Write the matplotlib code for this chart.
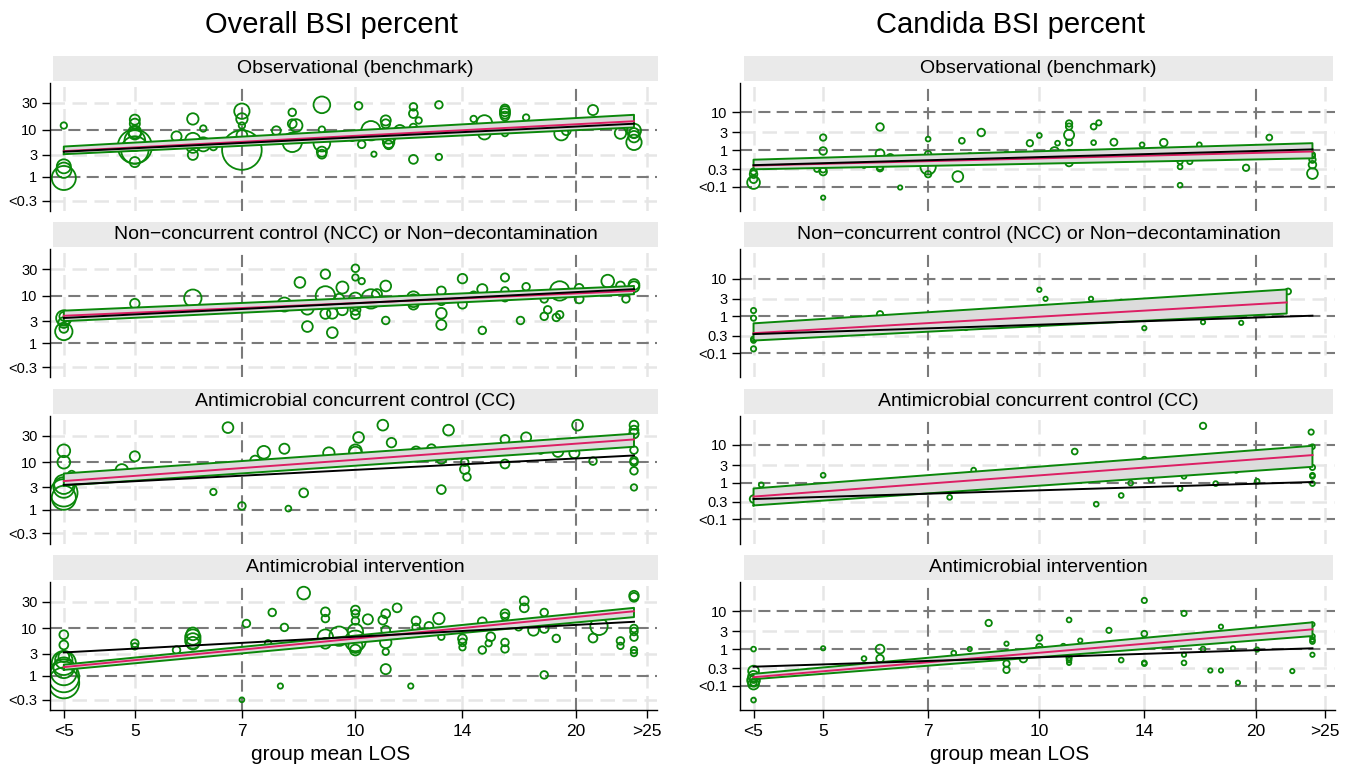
import numpy as np
import matplotlib
matplotlib.use("Agg")
import matplotlib.pyplot as plt
from matplotlib.patches import Rectangle
from matplotlib.ticker import NullLocator, NullFormatter

plt.rcParams['font.family'] = ['Liberation Sans', 'DejaVu Sans']

# axis ticks
los_ticks = [4, 5, 7, 10, 14, 20, 25]
los_labels = ['<5', '5', '7', '10', '14', '20', '>25']
ov_ticks = [30, 10, 3, 1, 0.3]
ov_labels = ['30', '10', '3', '1', '<0.3']
ca_ticks = [10, 3, 1, 0.3, 0.1]
ca_labels = ['10', '3', '1', '0.3', '<0.1']

panel_titles = ['Observational (benchmark)',
                'Non\u2212concurrent control (NCC) or Non\u2212decontamination',
                'Antimicrobial concurrent control (CC)',
                'Antimicrobial intervention']

# ---- Overall BSI percent: (group mean LOS, percent, weight) ----
ov_obs_los = [4, 4, 4, 4, 5, 5, 5, 5, 5, 5, 5, 5, 5.7, 6.0, 6.0, 6.0, 6.0, 6.2, 6.2, 6.4,
              7, 7, 7, 7, 7, 7.8, 8.2, 8.2, 8.2, 8.3, 9.0, 9.0, 9.0, 9.0, 9.0,
              10.1, 10.5, 10.2, 9.9, 10.6, 11, 11, 11.1, 11.1, 11.1, 11.5,
              12, 12, 12, 12.2, 12, 13, 13, 14.5, 15, 15, 16, 16, 16, 16, 16, 17.1, 16.5,
              19.1, 19.4, 21.1, 23, 24, 24, 24, 24]
ov_obs_pct = [12, 1.7, 1.4, 0.95, 15.5, 13, 9, 8.5, 4.5, 3.8, 2.1, 6, 7.3, 16, 6, 3, 4.5, 10.5, 5, 4.5,
              22, 16, 7.7, 3.8, 12, 9.5, 21, 13, 5.5, 12, 28, 10, 5.3, 3.5, 3.1,
              27, 9.5, 5, 6.8, 3.1, 15, 13, 7.2, 5.5, 4.9, 9.5,
              26, 20, 11, 15, 2.4, 28, 2.7, 16, 13.5, 8.5, 22, 20, 24, 18, 8.5, 17, 12,
              8.4, 9.5, 23, 8.5, 9.5, 5.5, 7.2, 8.5]
ov_obs_wt = [8, 20, 22, 35, 14, 14, 18, 18, 50, 40, 14, 30, 14, 16, 22, 14, 18, 8, 20, 10,
             22, 16, 15, 58, 8, 12, 10, 12, 28, 18, 24, 8, 24, 14, 12,
             10, 28, 10, 8, 6, 14, 12, 20, 16, 12, 16,
             10, 12, 10, 8, 12, 10, 8, 8, 22, 18, 14, 14, 12, 12, 8, 8, 8,
             20, 12, 14, 16, 20, 22, 16, 14]

ov_ncc_los = [4, 4, 4, 4, 4, 5, 6, 8, 8.4, 8.6, 8.6, 9.1, 9.1, 9.1, 9.3, 9.3, 9.6, 9.6, 9.5,
              10, 10, 10.2, 10, 10, 10, 10, 10.5, 10.7, 11, 11, 12, 12, 12,
              13.1, 13.1, 13.1, 13.1, 14, 14, 14.5, 14.9, 14.9, 16, 16, 16, 17.1, 16.8,
              18.1, 18.1, 18.3, 18.8, 19, 19, 20.2, 20.2, 22.1, 23, 23.4, 24, 24]
ov_ncc_pct = [3.8, 3.5, 2.8, 2.1, 1.8, 7, 9, 6.7, 18, 5.6, 2.3, 25, 10, 4.3, 4.4, 1.7, 14.5, 5.2, 8.7,
              31, 22, 19, 8.7, 6.7, 5.2, 4.1, 8.7, 10.8, 15.5, 3.1, 9.2, 8, 6.7,
              12.5, 8, 4.4, 2.5, 21, 6.8, 10, 13.5, 1.9, 22, 12.5, 9.2, 15, 3.1,
              8.7, 3.8, 5.2, 3.6, 4.1, 12.5, 14, 8.7, 19, 15.5, 8.7, 16.5, 15]
ov_ncc_wt = [12, 22, 15, 12, 25, 13, 25, 20, 15, 18, 15, 13, 28, 14, 15, 15, 17, 15, 14,
             10, 8, 8, 18, 14, 14, 12, 28, 14, 15, 10, 18, 18, 14,
             12, 12, 15, 14, 13, 12, 12, 14, 10, 11, 10, 10, 10, 10,
             10, 10, 10, 10, 10, 28, 12, 12, 18, 12, 10, 15, 15]

ov_cc_los = [4, 4, 4.1, 4, 4, 4, 4, 4.8, 5, 6.4, 6.7, 7, 7.3, 7.5, 8, 8.1, 8.5,
             9.2, 10, 10, 10.1, 10.9, 11.2, 12.1, 12.1, 12.7, 13.1, 13.1, 13.4,
             14.1, 14.1, 14.2, 16, 16, 17.1, 17.9, 18.9, 19.9, 20.1, 21.1,
             24, 24, 24, 24, 24, 24, 24, 24]
ov_cc_pct = [16.5, 10, 5.6, 3.5, 2.3, 1.8, 3, 6.8, 13, 2.4, 39, 1.2, 10.7, 15.5, 18, 1.05, 2.3,
             15, 16.5, 15, 28, 42, 23, 16, 12.5, 18, 11.7, 2.7, 36,
             10, 7.2, 5, 26, 9.2, 28, 17, 16, 15, 42, 10.5,
             42, 36, 32, 17, 10.8, 10, 6.7, 3]
ov_cc_wt = [18, 18, 10, 28, 40, 35, 30, 18, 14, 8, 15, 10, 14, 18, 14, 7, 12,
            16, 18, 18, 15, 15, 13, 14, 12, 12, 14, 12, 15,
            10, 13, 10, 12, 12, 14, 10, 15, 14, 15, 10,
            12, 12, 13, 10, 10, 10, 10, 8]

ov_int_los = [4, 4, 4, 4, 4, 4, 4, 4, 4, 5, 5, 5.7, 6, 6, 6, 6,
              7.1, 7, 7.6, 7.7, 7.9, 8, 8.5, 9.1, 9.1, 9.1, 9.1, 9.5,
              10, 10, 10, 10, 10, 10, 10, 10.4, 10.9, 11, 11, 11, 11, 11,
              11.4, 12.1, 12.1, 11.9, 12.6, 13, 13.1, 14, 14, 14, 14.9, 14.9, 15.2, 15.3,
              16, 16, 16, 16, 16.7, 17, 17, 17.5, 18.1, 18.1, 18.1, 18.8, 21.1, 21.5,
              23, 23, 24, 24, 24, 24, 24, 24, 24]
ov_int_pct = [7.5, 4.6, 2.6, 2.2, 1.9, 1.5, 1.2, 0.95, 0.7, 5, 4.3, 3.6, 6.7, 5.6, 7.8, 5,
              12.5, 0.3, 5, 20, 0.6, 10.5, 40, 20.5, 15.5, 6.7, 5, 7,
              22, 19, 14, 8.7, 5.6, 3.6, 4.4, 15, 14.5, 19, 9.2, 5.2, 3.3, 1.4,
              24, 14, 10.5, 0.6, 11, 15.5, 6.8, 6.2, 5.2, 4.1, 13.5, 3.6, 5, 6.8,
              19, 17, 5.2, 3.8, 10.8, 31, 24, 9.2, 20, 10, 1.05, 6.3, 6.4, 11,
              5.6, 4.4, 37, 35, 10, 8.7, 6.7, 3.6, 3.1]
ov_int_wt = [12, 12, 15, 25, 35, 30, 38, 45, 45, 10, 8, 10, 22, 22, 18, 18,
             10, 5, 8, 10, 6, 10, 18, 12, 10, 22, 15, 28,
             12, 10, 10, 22, 30, 15, 20, 14, 12, 12, 12, 16, 8, 14,
             12, 12, 10, 6, 12, 16, 8, 12, 10, 8, 12, 10, 8, 12,
             12, 10, 10, 10, 10, 12, 12, 15, 10, 12, 10, 10, 12, 25,
             10, 8, 13, 12, 10, 10, 10, 8, 8]

# ---- Candida BSI percent ----
ca_obs_los = [4, 4, 4, 4, 5, 5, 5, 5, 4.9, 5, 5.7, 6, 6, 6, 6, 6.2, 6.4,
              7, 7, 7, 7, 7.7, 7.8, 8, 8.3, 9, 9.7, 10, 10.5, 10.6,
              11, 11, 11, 11, 11, 11, 11.9, 12.1, 11.9, 12.7, 13.9, 14.9,
              15.7, 15.7, 15.7, 16.2, 16.7, 19.4, 20.9, 24, 24, 24, 24, 24]
ca_obs_pct = [0.22, 0.16, 0.13, 0.26, 2.2, 0.95, 0.3, 0.26, 0.3, 0.05, 0.38, 4.2, 0.8, 0.35, 0.32, 0.62, 0.095,
              2, 0.78, 0.35, 0.22, 0.19, 1.8, 0.65, 3, 0.75, 1.55, 2.5, 0.92, 1.55,
              5.2, 4.3, 2.6, 1.6, 0.84, 0.46, 4.3, 5.4, 1.6, 1.65, 1.4, 1.6,
              0.49, 0.35, 0.11, 0.49, 1.4, 0.33, 2.2, 0.75, 0.55, 0.4, 0.23, 0.7]
ca_obs_wt = [10, 10, 18, 8, 8, 10, 8, 10, 6, 4, 5, 10, 12, 8, 8, 10, 4,
             5, 8, 22, 8, 15, 7, 10, 10, 8, 8, 5, 12, 5,
             8, 8, 14, 8, 8, 10, 7, 6, 5, 9, 5, 10,
             6, 5, 5, 6, 5, 8, 7, 6, 8, 10, 15, 6]

ca_ncc_los = [4, 4, 4, 4, 4, 6, 7.9, 9, 10, 10.2, 10, 11.8, 13, 14, 16.9, 19.1, 22.2]
ca_ncc_pct = [1.45, 0.9, 0.24, 0.22, 0.13, 1.15, 0.5, 0.68, 5.2, 3, 0.65, 3, 2.5, 0.48, 0.7, 0.67, 4.7]
ca_ncc_wt = [6, 6, 6, 5, 6, 8, 6, 5, 4, 4, 8, 4, 4, 4, 4, 4, 7]

ca_cc_los = [4, 4.1, 5, 6.4, 7.5, 8.1, 11.2, 12, 12, 12.7, 13, 13.4, 14, 14.3, 15.7, 15.9, 16.9,
             17.6, 18.8, 20.1, 23.9, 24, 24, 24, 24, 24]
ca_cc_pct = [0.36, 0.88, 1.6, 1.2, 0.4, 2.2, 6.8, 3.1, 0.26, 3.3, 0.45, 0.98, 4.3, 1.2, 0.7, 1.5, 27,
             0.95, 2.2, 1.1, 20, 9, 2.6, 1.6, 1.5, 0.95]
ca_cc_wt = [10, 5, 5, 4, 5, 5, 7, 4, 5, 4, 5, 5, 5, 5, 5, 5, 8,
            5, 6, 5, 6, 5, 6, 5, 5, 5]

ca_int_los = [4, 4, 4, 4, 4, 4, 4, 4, 5, 5.7, 6, 6, 7.6, 8, 8.5,
              9, 9, 9, 9, 9.5, 10, 10, 10, 10.8, 11, 11, 11, 11, 11.4, 12.5, 13,
              14, 14, 14, 14, 15.9, 15.9, 15.9, 16.9, 17.3, 17.9, 17.9, 18.6, 18.9, 20.1, 22.5,
              24, 24, 24, 24, 24]
ca_int_pct = [1.0, 0.25, 0.18, 0.14, 0.11, 0.15, 0.12, 0.04, 1.05, 0.55, 1.0, 0.55, 0.78, 1.0, 5,
              1.4, 0.8, 0.4, 0.27, 0.55, 1.15, 2, 1, 1.2, 6, 0.58, 0.5, 0.42, 1.7, 3.2, 0.5,
              18, 2.6, 0.42, 0.4, 8.8, 0.7, 0.42, 1.0, 0.26, 4, 0.26, 1.05, 0.12, 0.97, 0.25,
              4.6, 2.2, 1.8, 1.6, 0.7]
ca_int_wt = [5, 15, 15, 18, 15, 10, 8, 5, 4, 5, 12, 10, 5, 4, 8,
             4, 6, 8, 8, 10, 8, 7, 5, 5, 5, 6, 5, 4, 4, 6, 5,
             6, 7, 5, 5, 6, 4, 5, 5, 4, 4, 4, 4, 4, 4, 4,
             4, 5, 5, 5, 4]

# ---- fitted lines: values at the start and end of each fit ----
fit_x = [4, 24]
ca_ncc_fit_x = [4, 22.1]
ov_fit_mid = [[3.6, 14.5], [3.9, 12.5], [4.1, 26], [1.55, 21]]
ov_fit_lo = [[3.1, 11], [3.0, 10.8], [3.3, 19.5], [1.35, 16.5]]
ov_fit_hi = [[4.5, 19], [5.0, 15.5], [5.9, 32], [1.75, 24]]
ov_ref = [[3.5, 13], [3.5, 13.5], [3.4, 13.5], [3.2, 13.5]]
ca_fit_mid = [[0.38, 0.92], [0.35, 2.4], [0.42, 5.5], [0.17, 3.4]]
ca_fit_lo = [[0.3, 0.6], [0.22, 1.2], [0.24, 2.7], [0.15, 2.25]]
ca_fit_hi = [[0.55, 1.55], [0.65, 5.3], [0.7, 9.5], [0.21, 5.2]]
ca_ref = [[0.39, 1.05], [0.33, 1.05], [0.36, 1.05], [0.33, 1.05]]

ov_pts = [(ov_obs_los, ov_obs_pct, ov_obs_wt), (ov_ncc_los, ov_ncc_pct, ov_ncc_wt),
          (ov_cc_los, ov_cc_pct, ov_cc_wt), (ov_int_los, ov_int_pct, ov_int_wt)]
ca_pts = [(ca_obs_los, ca_obs_pct, ca_obs_wt), (ca_ncc_los, ca_ncc_pct, ca_ncc_wt),
          (ca_cc_los, ca_cc_pct, ca_cc_wt), (ca_int_los, ca_int_pct, ca_int_wt)]

GREEN = '#0a870a'
PINK = '#dc1e64'
DARK = '#7a7a7a'
LIGHT = '#e6e6e6'

W, H = 1346, 767
fig = plt.figure(figsize=(W / 100, H / 100), dpi=100)


def draw_panel(ax, pts, mid, lo, hi, ref, bx, yt, ylabs, ylim, dark_y, bottom):
    ax.set_xscale('log')
    ax.set_yscale('logit')
    ax.set_xlim(3.83, 25.8)
    ax.set_ylim(*ylim)
    # grid lines
    for t in yt:
        if t in dark_y:
            ax.axhline(t / 100, color=DARK, lw=1.5, dashes=(5.8, 3.0), zorder=1)
        else:
            ax.axhline(t / 100, color=LIGHT, lw=1.8, dashes=(5.8, 3.0), zorder=0)
    for t in los_ticks:
        if t in (7, 20):
            ax.axvline(t, color=DARK, lw=1.5, dashes=(5.8, 3.0), zorder=1)
        else:
            ax.axvline(t, color=LIGHT, lw=1.8, dashes=(5.8, 3.0), zorder=0)

    x, y, w = pts
    ax.scatter(x, np.array(y) / 100, s=0.24 * np.array(w) ** 2 + 6, facecolors='none',
               edgecolors=GREEN, linewidths=1.3, zorder=2)

    ax.fill_between(bx, np.array(lo) / 100, np.array(hi) / 100, facecolor='#dcdcdc',
                    edgecolor='none', zorder=3)
    ax.plot([bx[0], bx[1], bx[1], bx[0], bx[0]],
            np.array([lo[0], lo[1], hi[1], hi[0], lo[0]]) / 100,
            color=GREEN, lw=1.4, zorder=4)
    ax.plot(bx, np.array(mid) / 100, color=PINK, lw=1.4, zorder=5)
    ax.plot(fit_x, np.array(ref) / 100, color='black', lw=1.4, zorder=6)

    ax.set_yticks([t / 100 for t in yt])
    ax.set_yticklabels(ylabs, fontsize=10.5)
    ax.yaxis.set_minor_locator(NullLocator())
    ax.yaxis.set_minor_formatter(NullFormatter())
    ax.set_xticks(los_ticks)
    ax.xaxis.set_minor_locator(NullLocator())
    ax.xaxis.set_minor_formatter(NullFormatter())
    for s in ('top', 'right'):
        ax.spines[s].set_visible(False)
    ax.spines['left'].set_linewidth(1.0)
    ax.tick_params(axis='y', length=6, width=1, pad=3)
    if bottom:
        ax.set_xticklabels(los_labels, fontsize=12.5)
        ax.tick_params(axis='x', length=6, width=1, pad=4)
        ax.spines['bottom'].set_linewidth(1.0)
    else:
        ax.spines['bottom'].set_visible(False)
        ax.tick_params(axis='x', length=0, labelbottom=False)


cols = [
    dict(x0=50, w=607, sx0=53, sx1=658, pts=ov_pts, mid=ov_fit_mid, lo=ov_fit_lo, hi=ov_fit_hi,
         ref=ov_ref, yt=ov_ticks, ylabs=ov_labels, ylim=(0.0018, 0.54), dark=(10, 1), cx=331,
         title='Overall BSI percent'),
    dict(x0=740, w=595, sx0=744, sx1=1333, pts=ca_pts, mid=ca_fit_mid, lo=ca_fit_lo, hi=ca_fit_hi,
         ref=ca_ref, yt=ca_ticks, ylabs=ca_labels, ylim=(0.000215, 0.415), dark=(10, 1, 0.1), cx=1010,
         title='Candida BSI percent'),
]

for ci, c in enumerate(cols):
    for i in range(4):
        top = 83 + 166.3 * i
        ax = fig.add_axes([c['x0'] / W, 1 - (top + 128) / H, c['w'] / W, 128 / H])
        bx = ca_ncc_fit_x if (ci == 1 and i == 1) else fit_x
        draw_panel(ax, c['pts'][i], c['mid'][i], c['lo'][i], c['hi'][i], c['ref'][i], bx,
                   c['yt'], c['ylabs'], c['ylim'], c['dark'], i == 3)
        fig.patches.append(Rectangle((c['sx0'] / W, 1 - (top - 2) / H), (c['sx1'] - c['sx0']) / W,
                                     25 / H, transform=fig.transFigure, facecolor='#eaeaea',
                                     edgecolor='none', zorder=0))
        fig.text((c['sx0'] + c['sx1']) / 2 / W, 1 - (top - 14.5) / H, panel_titles[i],
                 ha='center', va='center', fontsize=14)
    fig.text(c['cx'] / W, 1 - 25 / H, c['title'], ha='center', va='center', fontsize=21)
    fig.text(c['cx'] / W, 1 - 755 / H, 'group mean LOS', ha='center', va='center', fontsize=15)

fig.savefig('out.png', dpi=100)
